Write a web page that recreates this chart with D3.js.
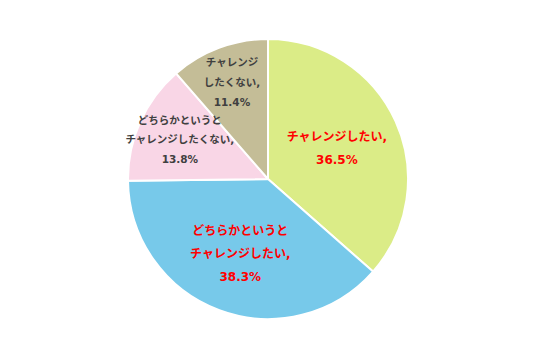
<!DOCTYPE html>
<html><head><meta charset="utf-8">
<script src="https://cdn.jsdelivr.net/npm/d3@7"></script>
<style>html,body{margin:0;padding:0;background:#fff;}svg{display:block;}</style>
</head><body>
<svg id="c" width="536" height="359"></svg>
<script>
const categories = ["チャレンジしたい", "どちらかというとチャレンジしたい", "どちらかというとチャレンジしたくない", "チャレンジしたくない"];
const values = [36.5, 38.3, 13.8, 11.4];
const labelLines = [
  ["チャレンジしたい,", "36.5%"],
  ["どちらかというと", "チャレンジしたい,", "38.3%"],
  ["どちらかというと", "チャレンジしたくない,", "13.8%"],
  ["チャレンジ", "したくない,", "11.4%"]
];

// layout / style config
const colors = ["#DBEC87", "#77C9EA", "#F9D6E6", "#C4BD97"];
const textColors = ["#FF0000", "#FF0000", "#404040", "#404040"];
const fontSizes = [12, 12, 10.5, 10.5];
const lineHeights = [23, 23, 19.5, 20];
const labelRadiusFactors = [0.54, 0.57, 0.69, 0.735];

const cx = 268, cy = 179, R = 140;
const svg = d3.select("#c");
const g = svg.append("g").attr("transform", `translate(${cx},${cy})`);

const data = categories.map((c, i) => ({name: c, value: values[i], i}));
const pie = d3.pie().value(d => d.value).sort(null);
const arcs = pie(data);
const arc = d3.arc().innerRadius(0).outerRadius(R);

g.selectAll("path").data(arcs).join("path")
  .attr("d", arc)
  .attr("fill", d => colors[d.data.i])
  .attr("stroke", "#fff")
  .attr("stroke-width", 2)
  .attr("stroke-linejoin", "round");

arcs.forEach(a => {
  const i = a.data.i;
  const lr = R * labelRadiusFactors[i];
  const la = d3.arc().innerRadius(lr).outerRadius(lr);
  const [x, y] = la.centroid(a);
  const lines = labelLines[i];
  const lh = lineHeights[i];
  const t = g.append("text")
    .attr("text-anchor", "middle")
    .attr("font-family", "'DejaVu Sans','Noto Sans CJK JP',sans-serif")
    .attr("font-weight", "bold")
    .attr("font-size", fontSizes[i])
    .attr("fill", textColors[i]);
  lines.forEach((s, k) => {
    t.append("tspan")
      .attr("x", x)
      .attr("y", y + (k - (lines.length - 1) / 2) * lh)
      .attr("dy", "0.35em")
      .text(s);
  });
});
</script>
</body></html>
